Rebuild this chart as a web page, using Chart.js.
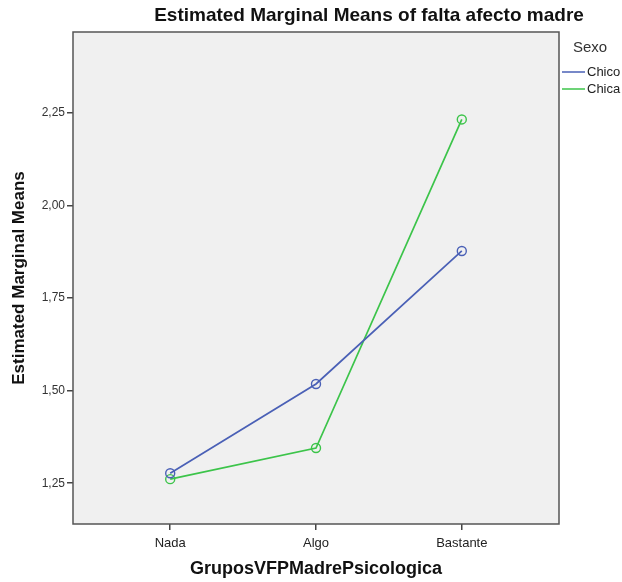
<!DOCTYPE html>
<html>
<head>
<meta charset="utf-8">
<script src="https://cdn.jsdelivr.net/npm/chart.js@4.4.1/dist/chart.umd.min.js"></script>
<style>
  body { margin: 0; background: #fff; }
  canvas { display: block; }
</style>
</head>
<body>
<canvas id="emmChart" width="622" height="582"></canvas>
<script>
const groups = ['Nada', 'Algo', 'Bastante'];
const seriesNames = ['Chico', 'Chica'];
const chicoMeans = [1.277, 1.518, 1.877];
const chicaMeans = [1.261, 1.345, 2.232];
const yTicks = [1.25, 1.50, 1.75, 2.00, 2.25];

const FONT = "'Liberation Sans', Arial, sans-serif";
const blue = '#4a60b6';
const green = '#3cc44a';

function toPoints(values) {
    return values.map((v, i) => ({ x: i, y: v }));
}

// title, plot frame and the "Sexo" legend are drawn by hand
const frame = {
    id: 'frame',
    beforeDraw(chart) {
        const { ctx, chartArea: a } = chart;
        ctx.save();
        ctx.fillStyle = '#f0f0f0';
        ctx.fillRect(a.left, a.top, a.right - a.left, a.bottom - a.top);
        ctx.restore();
    },
    afterDraw(chart) {
        const { ctx, chartArea: a } = chart;
        ctx.save();
        ctx.strokeStyle = '#555';
        ctx.lineWidth = 1.5;
        ctx.strokeRect(a.left, a.top, a.right - a.left, a.bottom - a.top);

        ctx.fillStyle = '#111';
        ctx.font = 'bold 19px ' + FONT;
        ctx.textAlign = 'center';
        ctx.textBaseline = 'middle';
        ctx.fillText('Estimated Marginal Means of falta afecto madre', 369, 16);

        ctx.fillStyle = '#333';
        ctx.font = '15px ' + FONT;
        ctx.textAlign = 'left';
        ctx.fillText('Sexo', 573, 48);

        ctx.font = '13px ' + FONT;
        chart.data.datasets.forEach((ds, i) => {
            const y = 72 + i * 17;
            ctx.strokeStyle = ds.borderColor;
            ctx.lineWidth = 1.5;
            ctx.beginPath();
            ctx.moveTo(562, y);
            ctx.lineTo(585, y);
            ctx.stroke();
            ctx.fillStyle = '#222';
            ctx.fillText(ds.label, 587, y);
        });
        ctx.restore();
    }
};

new Chart(document.getElementById('emmChart'), {
    type: 'line',
    data: {
        datasets: [
            {
                label: seriesNames[0],
                data: toPoints(chicoMeans),
                borderColor: blue,
                backgroundColor: 'transparent',
                pointBorderColor: blue,
                pointBackgroundColor: 'transparent'
            },
            {
                label: seriesNames[1],
                data: toPoints(chicaMeans),
                borderColor: green,
                backgroundColor: 'transparent',
                pointBorderColor: green,
                pointBackgroundColor: 'transparent'
            }
        ]
    },
    options: {
        responsive: false,
        animation: false,
        layout: { padding: { top: 32, right: 63, left: 0, bottom: 0 } },
        elements: {
            line: { borderWidth: 1.7, tension: 0 },
            point: { radius: 4.5, borderWidth: 1.4, hoverRadius: 4.5 }
        },
        scales: {
            x: {
                type: 'linear',
                min: -2 / 3,
                max: 8 / 3,
                afterBuildTicks: (scale) => {
                    scale.ticks = groups.map((g, i) => ({ value: i }));
                },
                afterFit: (scale) => { scale.height = 58; },
                ticks: {
                    callback: (v) => groups[v],
                    color: '#222',
                    font: { family: FONT, size: 13 },
                    padding: 6,
                    maxRotation: 0
                },
                grid: {
                    drawOnChartArea: false,
                    drawTicks: true,
                    tickLength: 6,
                    color: '#444',
                    lineWidth: 1.5
                },
                border: { display: false },
                title: {
                    display: true,
                    text: 'GruposVFPMadrePsicologica',
                    color: '#111',
                    font: { family: FONT, size: 18, weight: 'bold' },
                    padding: { top: 0, bottom: 2 }
                }
            },
            y: {
                min: 1.14,
                max: 2.468,
                afterBuildTicks: (scale) => {
                    scale.ticks = yTicks.map(v => ({ value: v }));
                },
                afterFit: (scale) => { scale.width = 73; },
                ticks: {
                    callback: (v) => v.toFixed(2).replace('.', ','),
                    color: '#333',
                    font: { family: FONT, size: 12 },
                    padding: 2
                },
                grid: {
                    drawOnChartArea: false,
                    drawTicks: true,
                    tickLength: 6,
                    color: '#444',
                    lineWidth: 1.5
                },
                border: { display: false },
                title: {
                    display: true,
                    text: 'Estimated Marginal Means',
                    color: '#111',
                    font: { family: FONT, size: 17, weight: 'bold' },
                    padding: { top: 9, bottom: 0 }
                }
            }
        },
        plugins: {
            legend: { display: false },
            tooltip: { enabled: false }
        }
    },
    plugins: [frame]
});
</script>
</body>
</html>
